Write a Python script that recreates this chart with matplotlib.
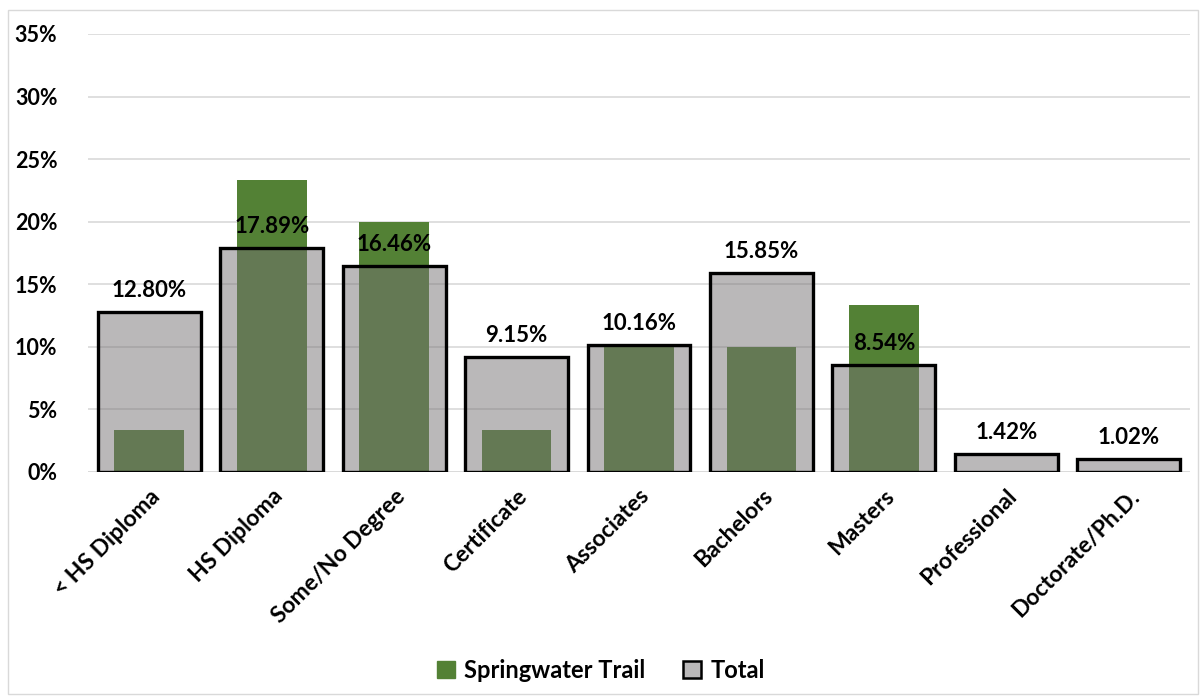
import numpy as np
import matplotlib.pyplot as plt
from matplotlib.patches import Rectangle

categories = ['< HS Diploma', 'HS Diploma', 'Some/No Degree', 'Certificate', 'Associates',
              'Bachelors', 'Masters', 'Professional', 'Doctorate/Ph.D.']
springwater = [3.33, 23.33, 20.0, 3.33, 10.0, 10.0, 13.33, 0.0, 0.0]
total = [12.80, 17.89, 16.46, 9.15, 10.16, 15.85, 8.54, 1.42, 1.02]
yticks = [0, 5, 10, 15, 20, 25, 30, 35]

plt.rcParams['font.family'] = ['Lato', 'DejaVu Sans']
plt.rcParams['font.weight'] = 'bold'

fig = plt.figure(figsize=(12.02, 6.96), dpi=100)
ax = fig.add_axes([88 / 1202, 1 - 471.7 / 696, 1102 / 1202, 437.7 / 696])

x = np.arange(len(categories))
ax.bar(x, springwater, width=0.57, color='#538135', zorder=2, label='Springwater Trail')
ax.bar(x, total, width=0.84, color='#767274', alpha=0.5, edgecolor='none', zorder=3)
ax.bar(x, total, width=0.84, facecolor='none', edgecolor='black', linewidth=2.4, zorder=4)

for xi, v in zip(x, total):
    ax.annotate(f'{v:.2f}%', (xi, v), xytext=(0, 8), textcoords='offset points',
                ha='center', va='bottom', fontsize=16, fontweight='bold', zorder=5)

ax.set_xlim(-0.5, len(categories) - 0.5)
ax.set_ylim(0, 35)
ax.set_yticks(yticks)
ax.set_yticklabels([f'{t}%' for t in yticks], fontsize=15.5, fontweight='bold')
ax.set_xticks(x)
ax.set_xticklabels(categories, rotation=45, ha='right', rotation_mode='anchor',
                   fontsize=16.5, fontweight='bold')
ax.tick_params(axis='y', length=0, pad=22)
ax.tick_params(axis='x', length=0, pad=10)
ax.yaxis.grid(True, color='#d9d9d9', linewidth=1.2, zorder=0)
ax.set_axisbelow(True)
for s in ax.spines.values():
    s.set_visible(False)
ax.axhline(0, color='#d9d9d9', linewidth=1.2, zorder=1)

handles = [Rectangle((0, 0), 1, 1, color='#538135'),
           Rectangle((0, 0), 1, 1, facecolor='#bab8b9', edgecolor='black', linewidth=1.8)]
fig.legend(handles, ['Springwater Trail', 'Total'], loc='center', bbox_to_anchor=(0.5, 1 - 670 / 696),
           ncol=2, frameon=False, handlelength=0.75, handleheight=0.75,
           handletextpad=0.4, columnspacing=1.6, prop={'weight': 'bold', 'size': 17})

fig.add_artist(Rectangle((8 / 1202, 2 / 696), 1190 / 1202, 684 / 696, transform=fig.transFigure,
                         fill=False, edgecolor='#d9d9d9', linewidth=1))

fig.savefig('out.png', dpi=100)
